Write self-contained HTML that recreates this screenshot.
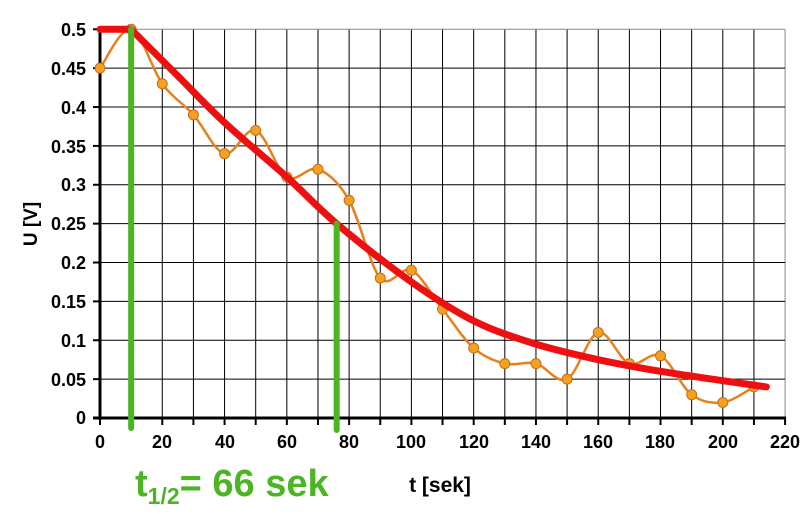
<!DOCTYPE html>
<html><head><meta charset="utf-8"><style>
html,body{margin:0;padding:0;background:#fff;width:811px;height:514px;overflow:hidden}
svg{display:block}
text{font-family:"Liberation Sans",Arial,sans-serif;font-weight:bold}
</style></head><body>
<svg id="s" width="811" height="514" xmlns="http://www.w3.org/2000/svg">
<g id="grid"></g>
<g font-size="18" fill="#000" text-anchor="end">
<text x="86" y="36">0.5</text><text x="86" y="75">0.45</text><text x="86" y="114">0.4</text>
<text x="86" y="153">0.35</text><text x="86" y="191">0.3</text><text x="86" y="230">0.25</text>
<text x="86" y="269">0.2</text><text x="86" y="308">0.15</text><text x="86" y="347">0.1</text>
<text x="86" y="386">0.05</text><text x="86" y="424">0</text>
</g>
<g font-size="18" fill="#000" text-anchor="middle">
<text x="100" y="448">0</text><text x="162" y="448">20</text><text x="225" y="448">40</text>
<text x="287" y="448">60</text><text x="349" y="448">80</text><text x="411" y="448">100</text>
<text x="474" y="448">120</text><text x="536" y="448">140</text><text x="598" y="448">160</text>
<text x="660" y="448">180</text><text x="723" y="448">200</text><text x="785" y="448">220</text>
</g>
<text x="0" y="0" font-size="19" transform="translate(37,224) rotate(-90)" text-anchor="middle">U [V]</text>
<text x="440" y="492" font-size="21" text-anchor="middle">t [sek]</text>
<text x="135" y="496" font-size="38" fill="#4cb523">t<tspan font-size="23" dy="8">1/2</tspan><tspan dy="-8">= 66 sek</tspan></text>
<g id="data"></g>
</svg>
<script>
var X=t=>100+t*3.114, Y=v=>418-v*777.4;
var g='';
for(var i=1;i<=22;i++){var x=X(i*10);g+='<line x1="'+x+'" y1="29.5" x2="'+x+'" y2="418" stroke="'+(i==22?'#888':'#000')+'" stroke-width="1"/>';}
for(var j=1;j<=10;j++){var y=Y(j*0.05);g+='<line x1="100" y1="'+y+'" x2="785" y2="'+y+'" stroke="'+(j==10?'#888':'#000')+'" stroke-width="1"/>';}
for(var j=0;j<=10;j++){var y=Y(j*0.05);g+='<line x1="93" y1="'+y+'" x2="100" y2="'+y+'" stroke="#000" stroke-width="2"/>';}
for(var i=0;i<=22;i++){var x=X(i*10);g+='<line x1="'+x+'" y1="418" x2="'+x+'" y2="425" stroke="#000" stroke-width="2"/>';}
g+='<line x1="100" y1="29" x2="100" y2="420" stroke="#000" stroke-width="3"/>';
g+='<line x1="93" y1="418" x2="786" y2="418" stroke="#000" stroke-width="3"/>';
document.getElementById('grid').innerHTML=g;
function cr(p){var d='M'+p[0][0]+','+p[0][1];for(var i=0;i<p.length-1;i++){var p0=p[i-1]||p[i],p1=p[i],p2=p[i+1],p3=p[i+2]||p2;
d+=' C'+(p1[0]+(p2[0]-p0[0])/6)+','+(p1[1]+(p2[1]-p0[1])/6)+' '+(p2[0]-(p3[0]-p1[0])/6)+','+(p2[1]-(p3[1]-p1[1])/6)+' '+p2[0]+','+p2[1];}return d;}
var v=[0.45,0.5,0.43,0.39,0.34,0.37,0.31,0.32,0.28,0.18,0.19,0.14,0.09,0.07,0.07,0.05,0.11,0.07,0.08,0.03,0.02,0.04];
var pts=v.map((a,i)=>[X(i*10),Y(a)]);
var r=[[0,0.5],[10,0.5],[25,0.44],[40,0.38],[60,0.31],[76,0.25],[100,0.175],[120,0.125],[140,0.095],[160,0.075],[180,0.06],[200,0.048],[214,0.04]].map(a=>[X(a[0]),Y(a[1])]);
var d='';
d+='<path d="'+cr(pts)+'" fill="none" stroke="#e8801e" stroke-width="2.5"/>';
pts.forEach(p=>{d+='<circle cx="'+p[0]+'" cy="'+p[1]+'" r="5" fill="#f6a020" stroke="#c0701a" stroke-width="1"/>';});
d+='<path d="M'+r[0]+' L'+r[1]+' '+cr(r.slice(1)).slice(1).replace(/^[^ ]*/,'')+'" fill="none" stroke="#ee1010" stroke-width="7" stroke-linecap="round" stroke-linejoin="round"/>';
d+='<line x1="'+X(10)+'" y1="29" x2="'+X(10)+'" y2="428" stroke="#4cb523" stroke-width="6" stroke-linecap="round"/>';
d+='<line x1="'+X(76)+'" y1="'+Y(0.25)+'" x2="'+X(76)+'" y2="430" stroke="#4cb523" stroke-width="6" stroke-linecap="round"/>';
document.getElementById('data').innerHTML=d;
</script>
</body></html>
